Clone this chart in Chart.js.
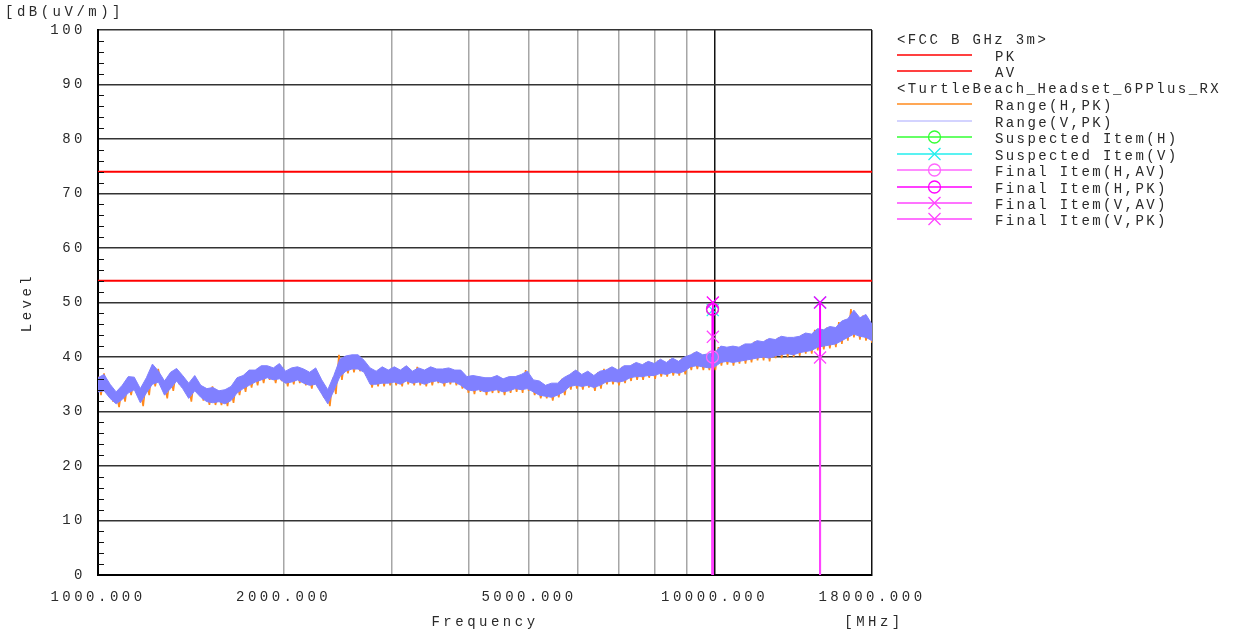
<!DOCTYPE html>
<html>
<head>
<meta charset="utf-8">
<script src="https://cdn.jsdelivr.net/npm/chart.js@4.4.1/dist/chart.umd.min.js"></script>
<style>
  html, body { margin: 0; padding: 0; background: #fff; }
</style>
</head>
<body>
<canvas id="emi" width="1235" height="634"></canvas>
<script>
// EMI scan, FCC B GHz 3m, 1 - 18 GHz

const FONT = '"Liberation Mono", "Courier New", monospace';

const fStart = 1000, fStop = 18000;
const xGridFreqs = [1000, 2000, 3000, 4000, 5000, 6000, 7000, 8000, 9000, 10000, 18000];
const xLabelFreqs = [1000, 2000, 5000, 10000, 18000];
const xDarkLines = [1000, 10000, 18000];
const yMin = 0, yMax = 100, yStep = 10, yMinorStep = 2;

const pkLimit = 74;
const avLimit = 54;

// peak trace envelopes (upper / lower edge of the noisy band)
const vHi = [
  36.2, 36.8, 35.0, 33.6, 34.8, 36.4, 36.3, 34.2, 36.2, 38.7,
  37.4, 35.6, 37.2, 37.9, 36.6, 35.2, 36.6, 34.8, 34.2, 34.4,
  33.8, 34.0, 34.6, 36.2, 36.6, 37.6, 37.6, 38.4, 38.4, 38.0,
  38.8, 37.4, 38.0, 38.2, 37.8, 37.2, 38.0, 35.8, 34.0, 36.6,
  39.6, 40.2, 40.4, 40.4, 39.4, 38.0, 37.4, 38.2, 37.6, 38.2,
  37.6, 38.4, 37.4, 38.0, 37.6, 38.2, 37.8, 37.8, 38.0, 37.6,
  37.6, 36.4, 36.6, 36.4, 36.2, 36.2, 36.6, 36.0, 36.4, 36.4,
  36.8, 37.4, 35.8, 35.6, 34.8, 35.2, 35.2, 36.2, 36.8, 37.6,
  36.8, 37.4, 36.6, 37.4, 37.6, 38.2, 37.6, 38.4, 38.4, 39.0,
  38.6, 39.2, 38.8, 39.6, 39.0, 39.8, 39.2, 40.0, 40.4, 41.0,
  40.4, 40.6, 40.8, 42.0, 41.8, 42.0, 41.8, 42.4, 42.4, 43.0,
  42.8, 43.4, 43.2, 43.8, 43.6, 43.6, 43.8, 44.4, 44.2, 45.2,
  45.0, 45.6, 45.4, 46.6, 47.0, 48.6, 47.2, 47.8, 46.0
];
const vLo = [
  33.6, 33.8, 32.4, 31.4, 32.2, 33.4, 34.0, 31.6, 33.4, 35.0,
  35.4, 33.0, 34.2, 35.6, 34.2, 32.4, 33.8, 32.6, 31.8, 31.6,
  31.8, 31.4, 32.0, 33.4, 34.2, 34.8, 35.4, 35.8, 36.2, 35.8,
  36.0, 35.2, 35.4, 35.8, 35.2, 34.8, 35.0, 33.2, 31.4, 33.8,
  36.4, 37.4, 37.8, 37.8, 37.2, 35.0, 35.0, 35.2, 35.2, 35.4,
  35.0, 35.6, 35.2, 35.4, 35.0, 35.4, 35.6, 35.2, 35.4, 35.4,
  34.8, 34.0, 33.8, 34.0, 33.6, 33.8, 34.0, 33.6, 33.8, 34.2,
  34.0, 34.2, 33.6, 33.0, 32.8, 32.6, 33.0, 33.6, 34.6, 34.8,
  34.6, 34.8, 34.4, 34.8, 35.4, 35.6, 35.4, 35.6, 36.2, 36.4,
  36.4, 36.6, 36.6, 37.0, 36.8, 37.2, 37.0, 37.4, 38.2, 38.4,
  38.2, 38.0, 38.2, 39.0, 39.2, 39.0, 39.2, 39.4, 39.6, 39.8,
  40.0, 39.8, 40.2, 40.4, 40.6, 40.4, 40.8, 41.0, 41.2, 41.8,
  42.0, 42.2, 42.4, 43.0, 43.6, 44.2, 43.8, 43.6, 43.0
];
const hHi = [
  36.4, 37.0, 34.6, 33.4, 34.4, 36.0, 36.0, 34.0, 35.8, 38.2,
  37.8, 35.2, 36.8, 37.6, 36.2, 35.0, 36.2, 34.6, 34.0, 34.6,
  33.6, 33.8, 34.4, 35.8, 36.4, 37.2, 37.4, 38.0, 38.2, 37.6,
  38.4, 37.2, 37.6, 38.0, 37.4, 37.0, 37.6, 35.4, 33.6, 36.2,
  40.4, 39.8, 40.2, 40.0, 39.2, 37.6, 37.2, 37.8, 37.4, 37.8,
  37.4, 38.2, 37.2, 38.2, 37.4, 37.8, 37.6, 37.4, 37.8, 37.4,
  37.2, 36.2, 36.4, 36.2, 36.0, 36.0, 36.4, 35.8, 36.2, 36.2,
  36.6, 37.6, 35.6, 35.4, 34.6, 35.0, 35.0, 36.0, 36.6, 37.4,
  36.6, 37.2, 36.4, 37.2, 37.8, 38.0, 37.4, 38.2, 38.2, 38.8,
  38.4, 39.0, 38.6, 39.4, 38.8, 39.6, 39.0, 39.8, 40.2, 40.8,
  40.2, 40.4, 40.6, 41.8, 41.6, 41.8, 41.6, 42.2, 42.2, 42.8,
  42.6, 43.2, 43.0, 43.6, 43.4, 43.4, 43.6, 44.2, 44.0, 45.0,
  44.8, 45.4, 45.2, 46.4, 46.8, 48.8, 47.0, 47.6, 45.8
];
const hLo = [
  33.0, 33.4, 31.8, 30.8, 31.8, 33.0, 33.4, 31.0, 33.0, 34.6,
  34.8, 32.4, 33.8, 35.0, 33.6, 31.8, 33.4, 32.0, 31.2, 31.2,
  31.2, 31.0, 31.6, 33.0, 33.6, 34.4, 34.8, 35.2, 35.8, 35.2,
  35.6, 34.6, 35.0, 35.2, 34.8, 34.2, 34.6, 32.6, 31.0, 33.2,
  35.8, 37.0, 37.2, 37.4, 36.6, 34.4, 34.6, 34.6, 34.8, 34.8,
  34.6, 35.0, 34.8, 34.8, 34.6, 34.8, 35.2, 34.6, 35.0, 34.8,
  34.2, 33.4, 33.2, 33.6, 33.0, 33.4, 33.4, 33.0, 33.4, 33.6,
  33.4, 33.8, 33.0, 32.4, 32.4, 32.0, 32.6, 33.0, 34.0, 34.2,
  34.0, 34.4, 33.8, 34.2, 35.0, 35.0, 34.8, 35.2, 35.6, 35.8,
  35.8, 36.2, 36.0, 36.4, 36.4, 36.6, 36.6, 36.8, 37.6, 37.8,
  37.6, 37.6, 37.6, 38.4, 38.6, 38.4, 38.8, 38.8, 39.0, 39.4,
  39.4, 39.2, 39.8, 39.8, 40.0, 40.0, 40.2, 40.6, 40.6, 41.2,
  41.4, 41.6, 41.8, 42.4, 43.0, 43.6, 43.2, 43.0, 42.6
];

// suspected / final items (MHz, dBuV/m)
const suspHFreq = [9922], suspHLevel = [48.8];
const suspVFreq = [9930, 14826], suspVLevel = [48.6, 50.0];
const finHAvFreq = [9922], finHAvLevel = [40.0];
const finHPkFreq = [9922], finHPkLevel = [48.8];
const finVAvFreq = [9935, 14826], finVAvLevel = [43.7, 39.9];
const finVPkFreq = [9935, 14826], finVPkLevel = [50.0, 50.0];

const C = {
  limit: '#ff0000',
  orange: '#ff8a1c',
  blue: '#8080ff',
  blueLegend: '#c4c4ff',
  green: '#33ff33',
  cyan: '#22eeee',
  magLight: '#ff66ff',
  mag: '#ff00ff',
  magMid: '#ff44ff',
  text: '#2a2a2a'
};

const legendRows = [
  { text: '<FCC B GHz 3m>', header: true },
  { text: 'PK', color: C.limit },
  { text: 'AV', color: C.limit },
  { text: '<TurtleBeach_Headset_6PPlus_RX', header: true },
  { text: 'Range(H,PK)', color: C.orange },
  { text: 'Range(V,PK)', color: C.blueLegend },
  { text: 'Suspected Item(H)', color: C.green, marker: 'circle' },
  { text: 'Suspected Item(V)', color: C.cyan, marker: 'cross' },
  { text: 'Final Item(H,AV)', color: C.magLight, marker: 'circle' },
  { text: 'Final Item(H,PK)', color: C.mag, marker: 'circle' },
  { text: 'Final Item(V,AV)', color: C.magMid, marker: 'cross' },
  { text: 'Final Item(V,PK)', color: C.magMid, marker: 'cross' }
];

const binFreqs = vHi.map((_, i) => fStart * Math.pow(fStop / fStart, i / (vHi.length - 1)));
const toPts = arr => arr.map((y, i) => ({ x: binFreqs[i], y: y }));

// the analyser trace swings between the lower and upper edge on every sweep step
function sweepTrace(lo, hi) {
  const n = lo.length * 2;
  const pts = [];
  for (let k = 0; k < n; k++) {
    const i = Math.floor(k / 2);
    pts.push({
      x: fStart * Math.pow(fStop / fStart, k / (n - 1)),
      y: k % 2 === 0 ? hi[i] : lo[i]
    });
  }
  return pts;
}

function sticks(freqs, levels) {
  const pts = [];
  freqs.forEach((f, i) => {
    if (i) pts.push({ x: f, y: null });
    pts.push({ x: f, y: 0 }, { x: f, y: levels[i] });
  });
  return pts;
}

function markerSet(label, freqs, levels, color, style, withSticks, order) {
  const r = style === 'circle' ? 6 : 8.5;
  return {
    label: label,
    data: withSticks ? sticks(freqs, levels) : freqs.map((f, i) => ({ x: f, y: levels[i] })),
    showLine: withSticks,
    borderColor: color,
    borderWidth: 2,
    pointStyle: style === 'circle' ? 'circle' : 'crossRot',
    pointBorderColor: color,
    pointBackgroundColor: 'rgba(0,0,0,0)',
    pointBorderWidth: 1.3,
    pointRadius: ctx => (ctx.raw && ctx.raw.y > 0) ? r : 0,
    pointHoverRadius: 0,
    fill: false,
    order: order
  };
}

function limitSet(label, level) {
  return {
    label: label,
    data: [{ x: fStart, y: level }, { x: fStop, y: level }],
    borderColor: C.limit,
    borderWidth: 2,
    pointRadius: 0,
    fill: false,
    order: 8
  };
}

function bandEdge(label, arr, fill) {
  return {
    label: label,
    data: toPts(arr),
    borderColor: C.blue,
    backgroundColor: C.blue,
    borderWidth: 1,
    pointRadius: 0,
    tension: 0,
    fill: fill,
    order: 6
  };
}

// letter spacing like the analyser printout, minor y ticks, titles, legend
const printoutPlugin = {
  id: 'printout',
  beforeDraw(chart) {
    chart.ctx.letterSpacing = '3.5px';
  },
  afterDraw(chart) {
    const ctx = chart.ctx;
    const area = chart.chartArea;
    const ys = chart.scales.y;

    ctx.save();
    ctx.strokeStyle = '#111';
    ctx.lineWidth = 1;
    for (let v = yMin; v <= yMax; v += yMinorStep) {
      if (v % yStep === 0) continue;
      const py = Math.round(ys.getPixelForValue(v)) + 0.5;
      ctx.beginPath();
      ctx.moveTo(area.left, py);
      ctx.lineTo(area.left + 6, py);
      ctx.stroke();
    }

    ctx.fillStyle = C.text;
    ctx.font = '14px ' + FONT;
    ctx.letterSpacing = '3.5px';
    ctx.textBaseline = 'middle';
    ctx.textAlign = 'center';
    ctx.fillText('Frequency', (area.left + area.right) / 2, 622);
    ctx.fillText('[MHz]', area.right + 2, 622);
    ctx.textAlign = 'left';
    ctx.fillText('[dB(uV/m)]', 5, 12);
    ctx.save();
    ctx.translate(27, (area.top + area.bottom) / 2);
    ctx.rotate(-Math.PI / 2);
    ctx.textAlign = 'center';
    ctx.fillText('Level', 0, 0);
    ctx.restore();

    // legend panel
    ctx.letterSpacing = '2.4px';
    legendRows.forEach((row, i) => {
      const ly = Math.round(38.5 + i * 16.45);
      ctx.fillStyle = C.text;
      if (row.header) {
        ctx.fillText(row.text, 897, ly + 1);
        return;
      }
      ctx.fillText(row.text, 995, ly + 2.5);
      ctx.strokeStyle = row.color;
      ctx.lineWidth = 1.5;
      ctx.beginPath();
      ctx.moveTo(897, ly);
      ctx.lineTo(972, ly);
      ctx.stroke();
      ctx.lineWidth = 1.3;
      if (row.marker === 'circle') {
        ctx.beginPath();
        ctx.arc(934.5, ly, 6, 0, Math.PI * 2);
        ctx.stroke();
      } else if (row.marker === 'cross') {
        ctx.beginPath();
        ctx.moveTo(928.5, ly - 6); ctx.lineTo(940.5, ly + 6);
        ctx.moveTo(928.5, ly + 6); ctx.lineTo(940.5, ly - 6);
        ctx.stroke();
      }
    });
    ctx.restore();
  }
};

new Chart(document.getElementById('emi'), {
  type: 'line',
  data: {
    datasets: [
      limitSet('PK', pkLimit),
      limitSet('AV', avLimit),
      {
        label: 'Range(H,PK)',
        data: sweepTrace(hLo, hHi),
        borderColor: C.orange,
        borderWidth: 1.6,
        borderJoinStyle: 'bevel',
        pointRadius: 0,
        tension: 0,
        fill: false,
        order: 7
      },
      bandEdge('Range(V,PK) low', vLo, false),
      bandEdge('Range(V,PK)', vHi, '-1'),
      markerSet('Suspected Item(H)', suspHFreq, suspHLevel, C.green, 'circle', false, 3),
      markerSet('Suspected Item(V)', suspVFreq, suspVLevel, C.cyan, 'cross', false, 2),
      markerSet('Final Item(H,AV)', finHAvFreq, finHAvLevel, C.magLight, 'circle', true, 1),
      markerSet('Final Item(H,PK)', finHPkFreq, finHPkLevel, C.mag, 'circle', true, 1),
      markerSet('Final Item(V,AV)', finVAvFreq, finVAvLevel, C.magMid, 'cross', true, 0),
      markerSet('Final Item(V,PK)', finVPkFreq, finVPkLevel, C.mag, 'cross', true, 0)
    ]
  },
  options: {
    responsive: false,
    animation: false,
    devicePixelRatio: 1,
    layout: { padding: { top: 30, right: 363, bottom: 0, left: 0 } },
    plugins: {
      legend: { display: false },
      tooltip: { enabled: false }
    },
    scales: {
      x: {
        type: 'logarithmic',
        min: fStart,
        max: fStop,
        afterBuildTicks: scale => {
          scale.ticks = xGridFreqs.map(v => ({ value: v }));
        },
        afterFit: scale => { scale.height = 59; },
        ticks: {
          autoSkip: false,
          maxRotation: 0,
          padding: 14,
          color: C.text,
          font: { family: FONT, size: 14 },
          callback: v => xLabelFreqs.includes(v) ? v.toFixed(3) : ''
        },
        grid: {
          drawTicks: false,
          color: ctx => (ctx.tick && xDarkLines.includes(ctx.tick.value)) ? '#111' : '#a6a6a6',
          lineWidth: 1.5
        },
        border: { color: '#000', width: 2 }
      },
      y: {
        min: yMin,
        max: yMax,
        afterFit: scale => { scale.width = 98; },
        ticks: {
          stepSize: yStep,
          padding: 12,
          color: C.text,
          font: { family: FONT, size: 14 }
        },
        grid: {
          drawTicks: false,
          color: '#333',
          lineWidth: 1.5
        },
        border: { color: '#000', width: 2 }
      }
    }
  },
  plugins: [printoutPlugin]
});
</script>
</body>
</html>
